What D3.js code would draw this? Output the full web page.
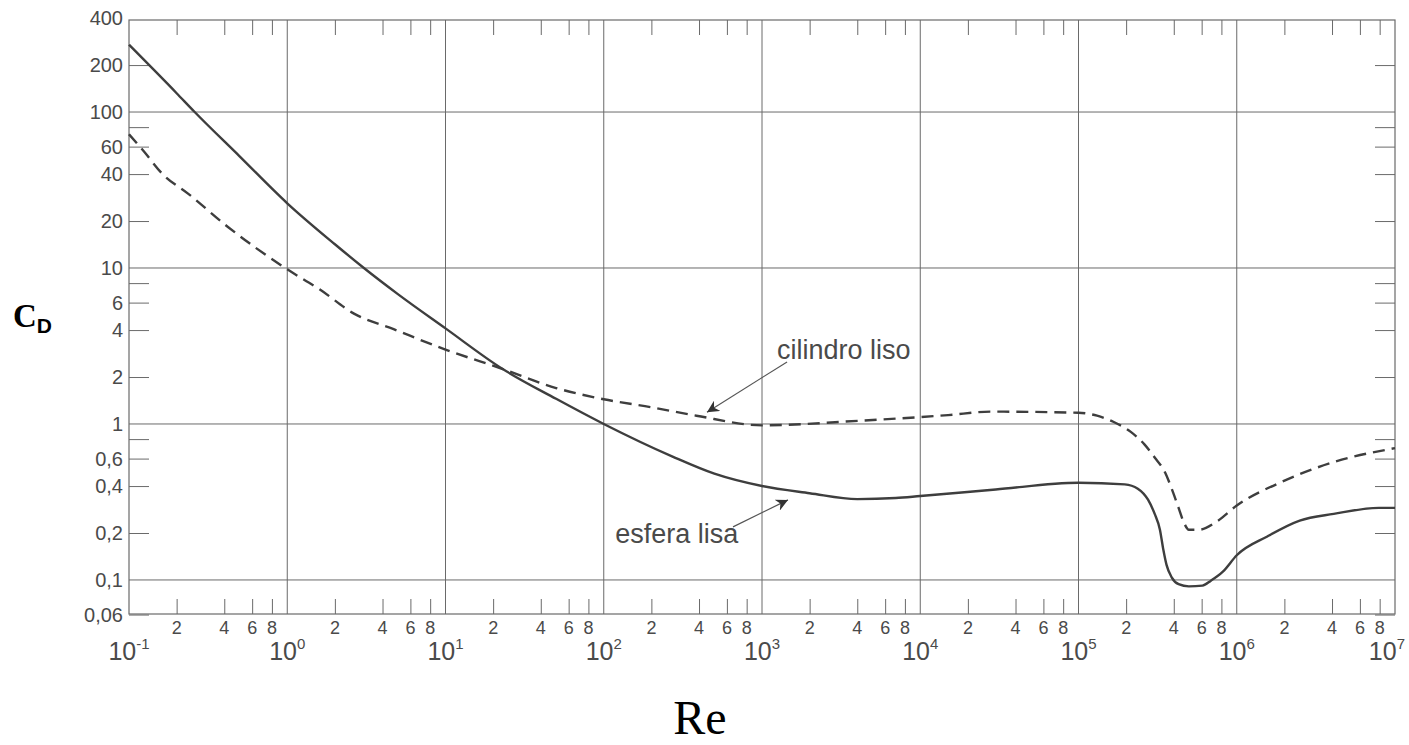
<!DOCTYPE html>
<html>
<head>
<meta charset="utf-8">
<script src="https://cdn.jsdelivr.net/npm/d3@7"></script>
<style>
  body { margin: 0; background: #fff; }
  text { font-family: "Liberation Sans", Arial, sans-serif; fill: #4a4a4a; }
</style>
</head>
<body>
<script>
/*
 * Drag coefficient C_D vs Reynolds number
 * smooth sphere (solid) and smooth cylinder (dashed)
 */

// esfera lisa
var sphereRe = [0.1, 0.2, 0.26, 0.5, 1, 2, 3.05, 5, 10, 23, 50, 100, 270, 500, 1000, 2000,
  4000, 7000, 1e4, 3e4, 1e5, 1.96e5, 2.37e5, 2.75e5, 3.03e5, 3.27e5, 3.43e5, 3.6e5, 3.88e5,
  4.29e5, 4.98e5, 6.07e5, 6.87e5, 8.17e5, 1e6, 1.56e6, 2.5e6, 4.1e6, 7.9e6, 1e7];
var sphereCd = [270, 132, 100, 52, 26, 14.2, 10, 6.8, 4.1, 2.25, 1.45, 1.0, 0.62, 0.48, 0.40, 0.36,
  0.33, 0.335, 0.345, 0.38, 0.42, 0.41, 0.385, 0.327, 0.265, 0.21, 0.158, 0.125, 0.104,
  0.094, 0.091, 0.092, 0.099, 0.113, 0.144, 0.19, 0.24, 0.265, 0.29, 0.29];

// cilindro liso
var cylRe = [0.1, 0.124, 0.163, 0.236, 0.42, 1, 1.6, 2.64, 4.7, 10, 23, 50, 100, 200, 385, 1000,
  4200, 1.5e4, 2.8e4, 1e5, 1.31e5, 1.67e5, 2.14e5, 2.61e5, 3.03e5, 3.52e5, 3.88e5, 4.29e5,
  4.62e5, 4.98e5, 5.77e5, 7.39e5, 1e6, 1.97e6, 4.1e6, 1e7];
var cylCd = [72, 56, 40, 30, 18.4, 9.8, 7.3, 5.1, 4.05, 3.0, 2.25, 1.7, 1.44, 1.28, 1.13, 0.98,
  1.05, 1.14, 1.2, 1.18, 1.13, 1.03, 0.89, 0.74, 0.61, 0.49, 0.385, 0.29,
  0.235, 0.21, 0.21, 0.235, 0.30, 0.43, 0.57, 0.70];

// axis ticks
var yLabelValues = [400, 200, 100, 60, 40, 20, 10, 6, 4, 2, 1, 0.6, 0.4, 0.2, 0.1, 0.06];
var yTickValues = [200, 80, 60, 40, 20, 8, 6, 4, 2, 0.8, 0.6, 0.4, 0.2, 0.06];
var yGridValues = [100, 10, 1, 0.1];
var xDecadeExp = [-1, 0, 1, 2, 3, 4, 5, 6, 7];
var xMinorMult = [2, 4, 6, 8];

// annotations: text position, arrow tail, arrow tip  (Re, Cd)
var annotations = [
  { text: "cilindro liso", at: [1245, 2.61], from: [1440, 2.5], to: [449, 1.19] },
  { text: "esfera lisa", at: [118, 0.173], from: [656, 0.219], to: [1459, 0.326] }
];

var width = 1409, height = 745;

var x = d3.scaleLog().domain([0.1, 1e7]).range([129, 1395]);
var y = d3.scaleLog().domain([0.0605, 389]).range([614, 20]);

var svg = d3.select("body").append("svg")
  .attr("width", width)
  .attr("height", height);

var lineCol = "#3e3e3e", gridCol = "#6a6a6a";

// minor x positions (2,4,6,8 in every decade)
var xMinor = [];
xDecadeExp.slice(0, -1).forEach(function(e) {
  xMinorMult.forEach(function(m) { xMinor.push(m * Math.pow(10, e)); });
});

// grid
svg.append("g").selectAll("line")
  .data(xDecadeExp.slice(1, -1))
  .enter().append("line")
  .attr("x1", function(e) { return x(Math.pow(10, e)); })
  .attr("x2", function(e) { return x(Math.pow(10, e)); })
  .attr("y1", y.range()[1]).attr("y2", y.range()[0])
  .attr("stroke", gridCol).attr("stroke-width", 1);

svg.append("g").selectAll("line")
  .data(yGridValues)
  .enter().append("line")
  .attr("x1", x.range()[0]).attr("x2", x.range()[1])
  .attr("y1", function(d) { return y(d); })
  .attr("y2", function(d) { return y(d); })
  .attr("stroke", gridCol).attr("stroke-width", 1);

// frame
svg.append("rect")
  .attr("x", x.range()[0]).attr("y", y.range()[1])
  .attr("width", x.range()[1] - x.range()[0])
  .attr("height", y.range()[0] - y.range()[1])
  .attr("fill", "none").attr("stroke", gridCol).attr("stroke-width", 1.2);

// inside tick marks on all four sides
function styleTicks(g) {
  g.select(".domain").remove();
  g.selectAll(".tick line").attr("stroke", gridCol).attr("stroke-width", 1);
  g.selectAll(".tick text").remove();
}

svg.append("g")
  .attr("transform", "translate(" + x.range()[0] + ",0)")
  .call(d3.axisLeft(y).tickValues(yTickValues).tickSize(-20))
  .call(styleTicks);

svg.append("g")
  .attr("transform", "translate(" + x.range()[1] + ",0)")
  .call(d3.axisRight(y).tickValues(yTickValues).tickSize(-20))
  .call(styleTicks);

svg.append("g")
  .attr("transform", "translate(0," + y.range()[1] + ")")
  .call(d3.axisTop(x).tickValues(xMinor).tickSize(-15))
  .call(styleTicks);

svg.append("g")
  .attr("transform", "translate(0," + y.range()[0] + ")")
  .call(d3.axisBottom(x).tickValues(xMinor).tickSize(-15))
  .call(styleTicks);

// y labels
var fmt = function(d) { return String(d).replace(".", ","); };
svg.append("g").selectAll("text")
  .data(yLabelValues)
  .enter().append("text")
  .attr("x", x.range()[0] - 6)
  .attr("y", function(d) { return y(d); })
  .attr("dy", "0.36em")
  .attr("text-anchor", "end")
  .style("font-size", "20px")
  .text(fmt);

// x labels
svg.append("g").selectAll("text")
  .data(xMinor)
  .enter().append("text")
  .attr("x", function(d) { return x(d); })
  .attr("y", 634)
  .attr("text-anchor", "middle")
  .style("font-size", "18px")
  .text(function(d) { return Math.round(d / Math.pow(10, Math.floor(Math.log10(d) + 1e-9))); });

var lastExp = xDecadeExp[xDecadeExp.length - 1];
var dec = svg.append("g").selectAll("text")
  .data(xDecadeExp)
  .enter().append("text")
  .attr("x", function(e) { return x(Math.pow(10, e)) + (e === lastExp ? 10 : 0); })
  .attr("y", 660)
  .attr("text-anchor", function(e) { return e === lastExp ? "end" : "middle"; })
  .style("font-size", "25px");
dec.append("tspan").text("10");
dec.append("tspan")
  .attr("dy", -11)
  .style("font-size", "15px")
  .text(function(e) { return e; });

// curves
var line = d3.line()
  .x(function(d) { return x(d[0]); })
  .y(function(d) { return y(d[1]); })
  .curve(d3.curveMonotoneX);

svg.append("path")
  .datum(d3.zip(sphereRe, sphereCd))
  .attr("d", line)
  .attr("fill", "none")
  .attr("stroke", lineCol)
  .attr("stroke-width", 2.4);

svg.append("path")
  .datum(d3.zip(cylRe, cylCd))
  .attr("d", line)
  .attr("fill", "none")
  .attr("stroke", lineCol)
  .attr("stroke-width", 2.4)
  .attr("stroke-dasharray", "12,7");

// annotations
svg.append("defs").append("marker")
  .attr("id", "arrow")
  .attr("viewBox", "0 0 10 10")
  .attr("refX", 10).attr("refY", 5)
  .attr("markerWidth", 12).attr("markerHeight", 12)
  .attr("markerUnits", "userSpaceOnUse")
  .attr("orient", "auto")
  .append("path")
  .attr("d", "M0,0 L10,5 L0,10 L3,5 Z")
  .attr("fill", "#333");

var ann = svg.append("g").selectAll("g")
  .data(annotations)
  .enter().append("g");

ann.append("line")
  .attr("x1", function(d) { return x(d.from[0]); })
  .attr("y1", function(d) { return y(d.from[1]); })
  .attr("x2", function(d) { return x(d.to[0]); })
  .attr("y2", function(d) { return y(d.to[1]); })
  .attr("stroke", "#555")
  .attr("stroke-width", 1.2)
  .attr("marker-end", "url(#arrow)");

ann.append("text")
  .attr("x", function(d) { return x(d.at[0]); })
  .attr("y", function(d) { return y(d.at[1]); })
  .style("font-size", "27px")
  .text(function(d) { return d.text; });

// axis titles
var cd = svg.append("text")
  .attr("x", 13).attr("y", 327);
cd.append("tspan")
  .style("font-family", "'Liberation Serif', 'Times New Roman', serif")
  .style("font-weight", "bold")
  .style("font-size", "33px")
  .style("fill", "#000")
  .text("C");
cd.append("tspan")
  .attr("dy", 6)
  .style("font-weight", "bold")
  .style("font-size", "21px")
  .style("fill", "#000")
  .text("D");

svg.append("text")
  .attr("x", 700).attr("y", 734)
  .attr("text-anchor", "middle")
  .style("font-family", "'Liberation Serif', 'Times New Roman', serif")
  .style("font-size", "48px")
  .style("fill", "#000")
  .text("Re");
</script>
</body>
</html>
